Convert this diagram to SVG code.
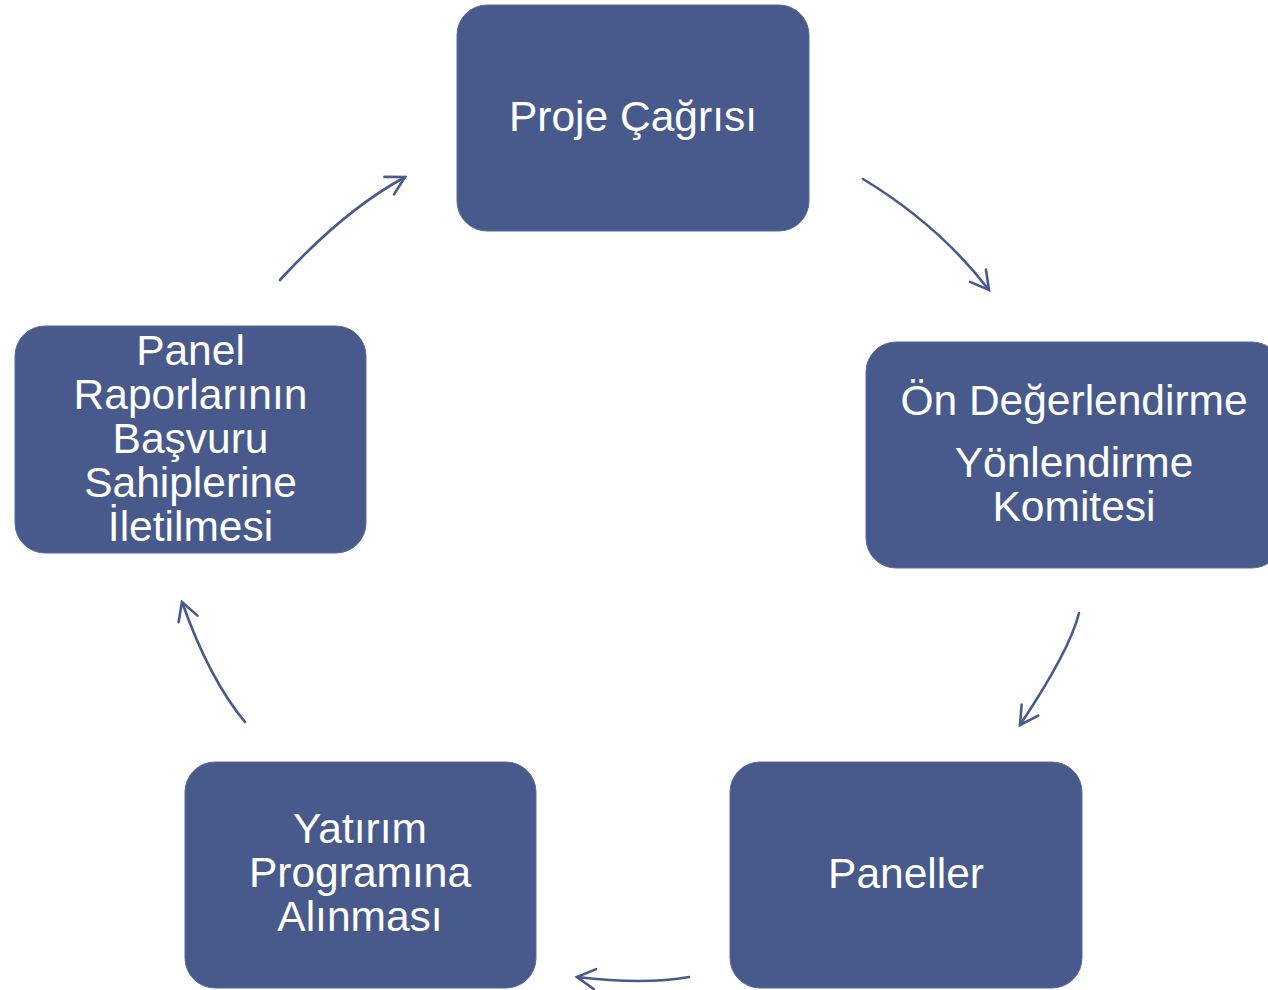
<svg xmlns="http://www.w3.org/2000/svg" width="1268" height="990" viewBox="0 0 1268 990">
<defs>
<style>
.box{fill:#485A8C;stroke:#5A6C9C;stroke-width:1}
.lbl{font-family:"Liberation Sans",Arial,sans-serif;font-size:42.5px;fill:#FFFFFF;text-anchor:middle}
.conn{fill:none;stroke:#485A8C;stroke-width:2.6;stroke-linecap:round}
</style>
<marker id="arr" markerUnits="userSpaceOnUse" viewBox="-22 -14 26 28" refX="0" refY="0" markerWidth="26" markerHeight="28" orient="auto">
<path d="M-18,-10 L0,0 L-18,10" fill="none" stroke="#485A8C" stroke-width="2.6" stroke-linecap="round" stroke-linejoin="miter"/>
</marker>
</defs>
<rect width="1268" height="990" fill="#FFFFFF"/>
<g id="connectors">
<path class="conn" d="M280,280 Q343,211 405,177" marker-end="url(#arr)"/>
<path class="conn" d="M863,179 Q939,225 989,290" marker-end="url(#arr)"/>
<path class="conn" d="M1079,613 Q1070,650 1020,725" marker-end="url(#arr)"/>
<path class="conn" d="M689,977 Q645,985 577,977" marker-end="url(#arr)"/>
<path class="conn" d="M245,722 Q209.5,679.5 182,602" marker-end="url(#arr)"/>
</g>
<g id="node-proje">
<rect class="box" x="457" y="5" width="352" height="226" rx="30"/>
<text class="lbl" x="633" y="131">Proje Çağrısı</text>
</g>
<g id="node-on">
<rect class="box" x="866" y="342" width="416" height="226" rx="30"/>
<text class="lbl" x="1074" y="415">Ön Değerlendirme</text>
<text class="lbl" x="1074" y="477">Yönlendirme</text>
<text class="lbl" x="1074" y="521">Komitesi</text>
</g>
<g id="node-paneller">
<rect class="box" x="730" y="762" width="352" height="226" rx="30"/>
<text class="lbl" x="906" y="888">Paneller</text>
</g>
<g id="node-yatirim">
<rect class="box" x="185" y="762" width="351" height="226" rx="30"/>
<text class="lbl" x="360" y="843">Yatırım</text>
<text class="lbl" x="360" y="887">Programına</text>
<text class="lbl" x="360" y="931">Alınması</text>
</g>
<g id="node-panel">
<rect class="box" x="15" y="326" width="351" height="227" rx="30"/>
<text class="lbl" x="190.5" y="365">Panel</text>
<text class="lbl" x="190.5" y="409">Raporlarının</text>
<text class="lbl" x="190.5" y="453">Başvuru</text>
<text class="lbl" x="190.5" y="497">Sahiplerine</text>
<text class="lbl" x="190.5" y="541">İletilmesi</text>
</g>
</svg>
